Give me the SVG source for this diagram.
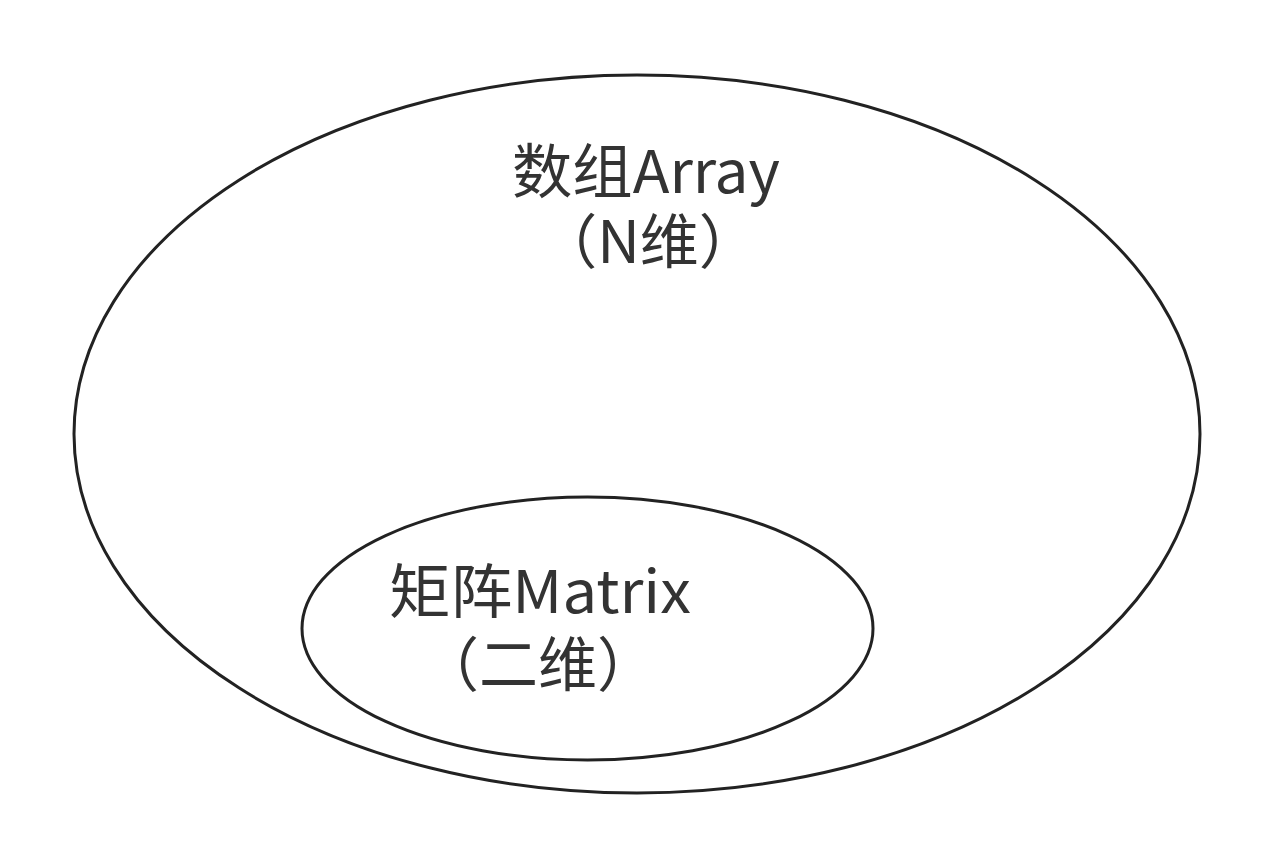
<svg xmlns="http://www.w3.org/2000/svg" width="1275" height="867" viewBox="0 0 1275 867">
<style>
.shape{fill:none;stroke:#222;stroke-width:3}
.lbl{font-family:"Noto Sans CJK SC","Noto Sans",sans-serif;font-size:59px;fill:#333;text-anchor:middle}
</style>
<rect width="1275" height="867" fill="#fff"/>
<g id="array">
<ellipse class="shape" cx="637" cy="434" rx="563" ry="359"/>
<text class="lbl" x="646" y="193" textLength="268" lengthAdjust="spacingAndGlyphs">数组Array</text>
<text class="lbl" x="648" y="263">（N维）</text>
</g>
<g id="matrix">
<ellipse class="shape" cx="587.5" cy="628.5" rx="285.5" ry="131.5"/>
<text class="lbl" x="540" y="613" textLength="302" lengthAdjust="spacingAndGlyphs">矩阵Matrix</text>
<text class="lbl" x="538" y="686">（二维）</text>
</g>
<g id="connectors"></g>
</svg>
